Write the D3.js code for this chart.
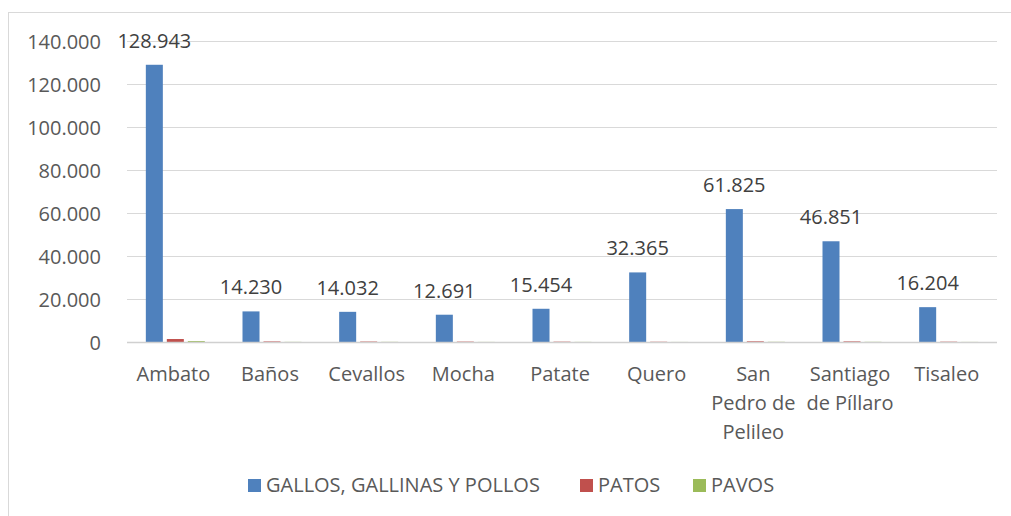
<!DOCTYPE html>
<html><head><meta charset="utf-8">
<script src="https://cdn.jsdelivr.net/npm/d3@7"></script>
<style>body{margin:0;background:#fff}svg{display:block}text{font-family:"Open Sans",sans-serif}</style>
</head><body><svg id="c" width="1011" height="516"></svg>
<script>
const categories = ["Ambato","Baños","Cevallos","Mocha","Patate","Quero","San Pedro de Pelileo","Santiago de Píllaro","Tisaleo"];
const categoryLines = [["Ambato"],["Baños"],["Cevallos"],["Mocha"],["Patate"],["Quero"],["San","Pedro de","Pelileo"],["Santiago","de Píllaro"],["Tisaleo"]];
const seriesNames = ["GALLOS, GALLINAS Y POLLOS","PATOS","PAVOS"];
const gallos = [128943,14230,14032,12691,15454,32365,61825,46851,16204];
const patos  = [1385,260,210,180,160,120,310,280,150];
const pavos  = [420,60,70,40,50,30,90,80,40];
const yTicks = [0,20000,40000,60000,80000,100000,120000,140000];
const colors = ["#4f81bd","#c0504d","#9bbb59"];

const series = [gallos, patos, pavos];
const loc = d3.formatLocale({decimal:",", thousands:".", grouping:[3], currency:["",""]});
const fmt = loc.format(",");

const svg = d3.select("#c");
const L = 127, R = 997, T = 41, B = 342;
const x0 = d3.scaleBand().domain(categories).range([L,R]).padding(0);
const groupW = 59;
const x1 = d3.scaleBand().domain(seriesNames).range([(x0.bandwidth()-groupW)/2,(x0.bandwidth()+groupW)/2]).paddingInner(0.19);
const y = d3.scaleLinear().domain([0,140000]).range([B,T]);

// frame
svg.append("line").attr("x1",8.5).attr("x2",8.5).attr("y1",12).attr("y2",516).attr("stroke","#d9d9d9");
svg.append("line").attr("x1",8).attr("x2",1011).attr("y1",12.5).attr("y2",12.5).attr("stroke","#d9d9d9");

// gridlines
svg.append("g").selectAll("line").data(yTicks.filter(d=>d>0)).join("line")
  .attr("x1",L).attr("x2",R).attr("y1",d=>Math.round(y(d))+0.5).attr("y2",d=>Math.round(y(d))+0.5)
  .attr("stroke","#d9d9d9").attr("stroke-width",1);

// y axis labels
const yAxis = d3.axisLeft(y).tickValues(yTicks).tickFormat(fmt).tickSize(0).tickPadding(0);
const yg = svg.append("g").attr("transform",`translate(101,0)`).call(yAxis);
yg.select(".domain").remove();
yg.selectAll("text").attr("font-size",20).attr("fill","#595959").attr("font-family","'Open Sans',sans-serif").attr("dy","0.35em");

// bars
const g = svg.append("g");
series.forEach((vals,si)=>{
  g.selectAll(".s"+si).data(vals).join("rect")
    .attr("x",(d,i)=>x0(categories[i])+x1(seriesNames[si]))
    .attr("width",x1.bandwidth())
    .attr("y",d=>y(d))
    .attr("height",d=>B-y(d))
    .attr("fill",colors[si]);
});

// baseline
svg.append("line").attr("x1",L).attr("x2",R).attr("y1",B+0.5).attr("y2",B+0.5).attr("stroke","#d0d0d0").attr("stroke-width",1.5);

// data labels
g.selectAll(".lbl").data(gallos).join("text")
  .attr("x",(d,i)=>x0(categories[i])+x1(seriesNames[0])+x1.bandwidth()/2)
  .attr("y",d=>y(d)-17)
  .attr("text-anchor","middle").attr("font-size",20).attr("fill","#404040")
  .text(d=>fmt(d));

// x labels
const xl = svg.append("g");
categories.forEach((c,i)=>{
  const t = xl.append("text").attr("x",x0(c)+x0.bandwidth()/2-2).attr("y",381)
    .attr("text-anchor","middle").attr("font-size",20).attr("fill","#595959");
  categoryLines[i].forEach((ln,j)=>{
    t.append("tspan").attr("x",x0(c)+x0.bandwidth()/2-2).attr("dy",j===0?0:29).text(ln);
  });
});

// legend
const legendX = [248, 580, 693];
const lg = svg.append("g").attr("transform","translate(0,492)");
seriesNames.forEach((n,i)=>{
  const it = lg.append("g").attr("transform",`translate(${legendX[i]},0)`);
  it.append("rect").attr("x",0).attr("y",-13).attr("width",13).attr("height",13).attr("fill",colors[i]);
  it.append("text").attr("x",18).attr("y",0).attr("font-size",20).attr("fill","#595959").text(n);
});
</script></body></html>
